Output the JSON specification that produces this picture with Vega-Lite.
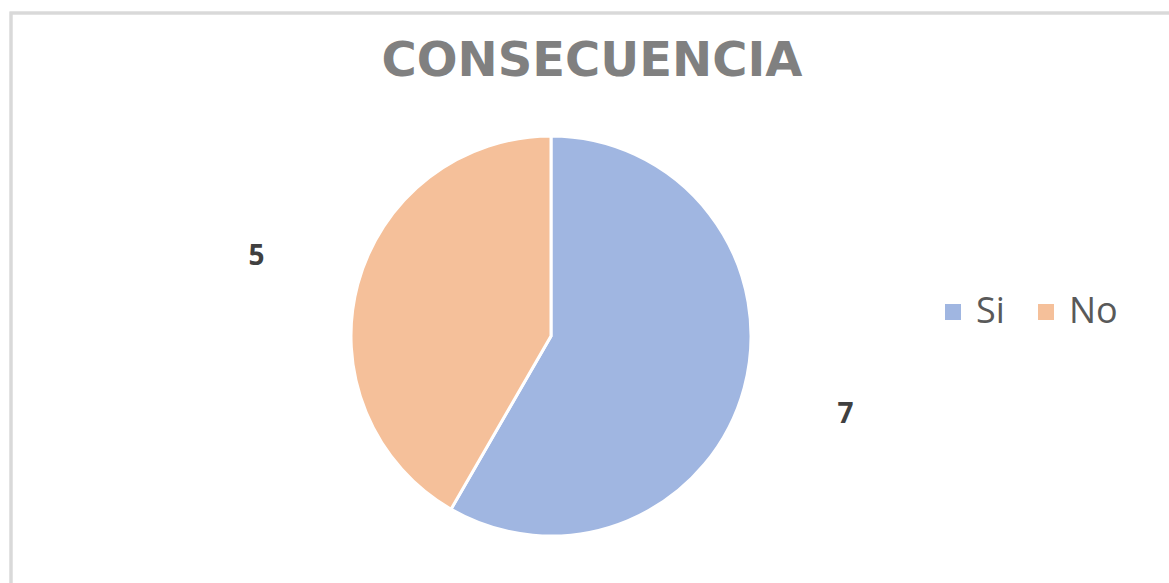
{
  "$schema": "https://vega.github.io/schema/vega-lite/v6.json",
  "width": 1169,
  "height": 583,
  "autosize": {"type": "fit", "contains": "padding"},
  "padding": {"left": 9, "top": 11, "right": -6, "bottom": -6},
  "background": "white",
  "config": {
    "view": {"stroke": null},
    "font": "DejaVu Sans"
  },
  "title": {
    "text": "CONSECUENCIA",
    "font": "DejaVu Sans",
    "fontSize": 48,
    "fontWeight": "bold",
    "color": "#808080",
    "anchor": "middle",
    "baseline": "bottom",
    "offset": -122
  },
  "data": {
    "values": [
      {"respuesta": "Si", "value": 7},
      {"respuesta": "No", "value": 5}
    ]
  },
  "layer": [
    {
      "mark": {"type": "rect", "fill": null, "stroke": "#d9d9d9", "strokeWidth": 3},
      "encoding": {}
    },
    {
      "mark": {"type": "arc", "outerRadius": 200, "stroke": "white", "strokeWidth": 3, "xOffset": -41, "yOffset": 36},
      "encoding": {
        "theta": {"field": "value", "type": "quantitative", "stack": true},
        "order": {"field": "value", "type": "quantitative", "sort": "descending"},
        "color": {
          "field": "respuesta",
          "type": "nominal",
          "scale": {"domain": ["Si", "No"], "range": ["#a0b6e1", "#f5c09a"]},
          "legend": {
            "title": null,
            "orient": "none",
            "direction": "horizontal",
            "legendX": 924,
            "legendY": 281,
            "symbolType": "square",
            "symbolSize": 256,
            "symbolStrokeWidth": 0,
            "labelFontSize": 36,
            "labelColor": "#595959",
            "labelFont": "Open Sans",
            "labelOffset": 5,
            "columnPadding": 23
          }
        }
      }
    },
    {
      "mark": {"type": "text", "radius": 305, "fontSize": 28, "fontWeight": "bold", "font": "Open Sans", "xOffset": -41, "yOffset": 36},
      "encoding": {
        "theta": {"field": "value", "type": "quantitative", "stack": true},
        "order": {"field": "value", "type": "quantitative", "sort": "descending"},
        "text": {"field": "value", "type": "quantitative"},
        "color": {"value": "#404040"}
      }
    }
  ]
}
